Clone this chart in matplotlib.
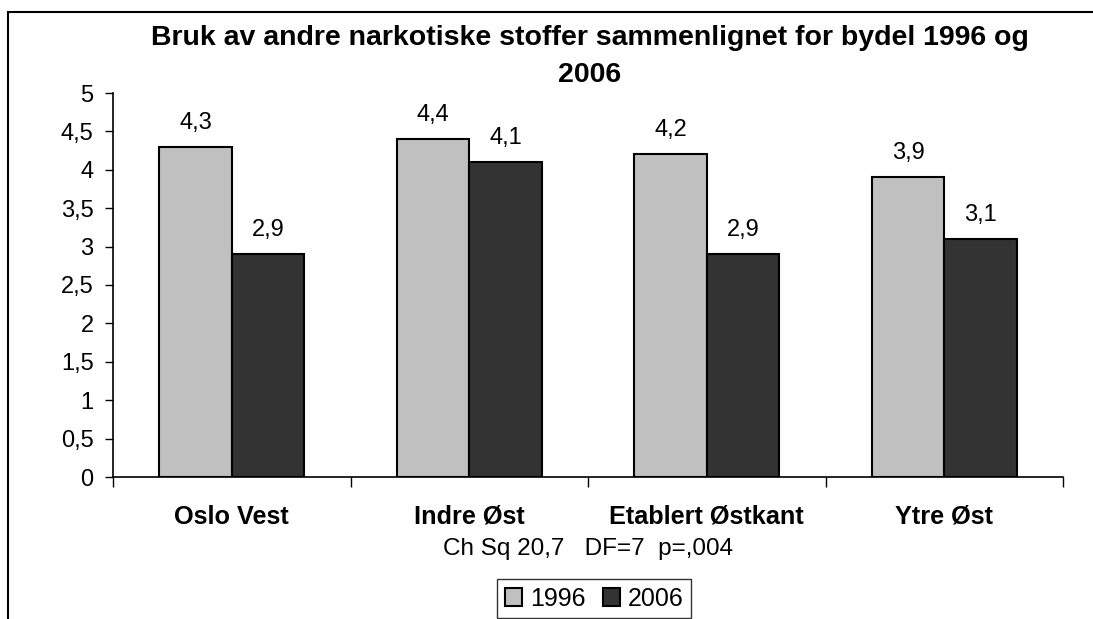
import numpy as np
import matplotlib
matplotlib.use("Agg")
import matplotlib.pyplot as plt
from matplotlib.patches import Rectangle

plt.rcParams['font.family'] = ['Liberation Sans', 'DejaVu Sans']

# data
bydeler = ["Oslo Vest", "Indre Øst", "Etablert Østkant", "Ytre Øst"]
v1996 = [4.3, 4.4, 4.2, 3.9]
v2006 = [2.9, 4.1, 2.9, 3.1]
yticks = [0, 0.5, 1, 1.5, 2, 2.5, 3, 3.5, 4, 4.5, 5]

fig = plt.figure(figsize=(10.93, 6.19), dpi=100)
ax = fig.add_axes([113/1093, 1-477/619, (1063-113)/1093, (477-93)/619])

x = np.arange(len(bydeler))
w = 0.305
b1 = ax.bar(x - w/2, v1996, w, color="#C0C0C0", edgecolor="black", linewidth=1.5, label="1996")
b2 = ax.bar(x + w/2, v2006, w, color="#333333", edgecolor="black", linewidth=1.5, label="2006")

for bars in (b1, b2):
    for r in bars:
        h = r.get_height()
        ax.text(r.get_x() + r.get_width()/2, h + 0.235, f"{h:.1f}".replace(".", ","),
                ha="center", va="baseline", fontsize=17)

ax.set_xlim(-0.5, len(bydeler) - 0.5)
ax.set_ylim(0, 5)
ax.set_yticks(yticks)
ax.set_yticklabels([f"{t:g}".replace(".", ",") for t in yticks], fontsize=17)
ax.tick_params(axis="y", length=6, width=1, pad=8)

# category boundary ticks, labels in between
ax.set_xticks(np.arange(len(bydeler) + 1) - 0.5)
ax.set_xticklabels([])
ax.set_xticks(x, minor=True)
ax.set_xticklabels(bydeler, minor=True, fontsize=18.2, fontweight="bold")
ax.tick_params(axis="x", which="major", length=7, width=1)
ax.tick_params(axis="x", which="minor", length=0, pad=20)

for s in ("top", "right"):
    ax.spines[s].set_visible(False)
for s in ("left", "bottom"):
    ax.spines[s].set_linewidth(1.2)

fig.text(590/1093, 1-45/619, "Bruk av andre narkotiske stoffer sammenlignet for bydel 1996 og",
         ha="center", va="baseline", fontsize=20.5, fontweight="bold")
fig.text(590/1093, 1-82/619, "2006", ha="center", va="baseline", fontsize=20.5, fontweight="bold")
fig.text(588/1093, 1-555/619, "Ch Sq 20,7   DF=7  p=,004", ha="center", va="baseline", fontsize=17.5)

leg = fig.legend(handles=[b1, b2], loc="upper center", bbox_to_anchor=(594/1093, 1-579/619),
                 ncol=2, fontsize=18, frameon=True, fancybox=False, edgecolor="black",
                 handlelength=0.7, handleheight=0.7, handletextpad=0.3, columnspacing=0.7,
                 borderpad=0.3, borderaxespad=0)
leg.get_frame().set_linewidth(1.0)

# outer chart border (clipped at right/bottom like the source)
fig.patches.append(Rectangle((8/1093, -0.2), 1.2, 1.2 - 12/619, transform=fig.transFigure,
                             fill=False, edgecolor="black", linewidth=1.5))

fig.savefig("out.png", dpi=100)
